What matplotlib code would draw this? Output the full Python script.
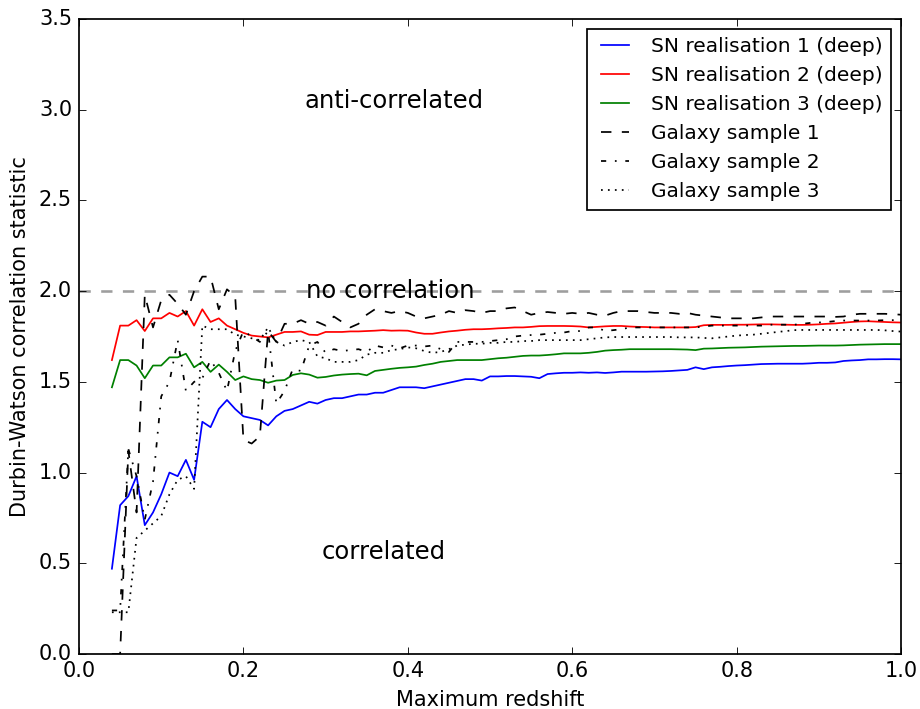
import numpy as np
import matplotlib
matplotlib.use("Agg")
import matplotlib.pyplot as plt

plt.style.use("classic")

# maximum redshift grid shared by all curves
redshift = np.round(np.arange(4, 101) / 100, 2)

sn_deep_1 = [
    0.47, 0.82, 0.87, 0.98, 0.71, 0.78, 0.88, 1.00, 0.98, 1.07,
    0.96, 1.28, 1.25, 1.35, 1.40, 1.35, 1.31, 1.30, 1.29, 1.26,
    1.31, 1.34, 1.35, 1.37, 1.39, 1.38, 1.40, 1.41, 1.41, 1.42,
    1.43, 1.43, 1.44, 1.44, 1.455, 1.47, 1.47, 1.47, 1.465, 1.475,
    1.485, 1.495, 1.505, 1.515, 1.515, 1.507, 1.53, 1.53, 1.532, 1.532,
    1.53, 1.528, 1.52, 1.543, 1.547, 1.55, 1.55, 1.552, 1.55, 1.552,
    1.549, 1.552, 1.556, 1.556, 1.556, 1.556, 1.557, 1.558, 1.56, 1.563,
    1.566, 1.58, 1.57, 1.58, 1.583, 1.587, 1.59, 1.592, 1.595, 1.598,
    1.599, 1.60, 1.60, 1.60, 1.60, 1.602, 1.605, 1.605, 1.607, 1.615,
    1.618, 1.62, 1.624, 1.624, 1.625, 1.625, 1.624,
]
sn_deep_2 = [
    1.62, 1.81, 1.81, 1.84, 1.78, 1.85, 1.85, 1.88, 1.86, 1.89,
    1.81, 1.90, 1.83, 1.85, 1.81, 1.79, 1.77, 1.755, 1.75, 1.745,
    1.76, 1.775, 1.775, 1.778, 1.76, 1.758, 1.775, 1.775, 1.775, 1.778,
    1.778, 1.78, 1.782, 1.785, 1.782, 1.783, 1.782, 1.772, 1.765, 1.765,
    1.772, 1.778, 1.782, 1.787, 1.79, 1.79, 1.792, 1.795, 1.797, 1.80,
    1.80, 1.803, 1.807, 1.808, 1.808, 1.808, 1.807, 1.805, 1.80, 1.803,
    1.806, 1.808, 1.808, 1.805, 1.803, 1.802, 1.80, 1.80, 1.80, 1.80,
    1.80, 1.802, 1.812, 1.814, 1.814, 1.814, 1.815, 1.815, 1.816, 1.817,
    1.817, 1.816, 1.815, 1.814, 1.814, 1.815, 1.817, 1.82, 1.822, 1.826,
    1.83, 1.833, 1.834, 1.832, 1.83, 1.828, 1.827,
]
sn_deep_3 = [
    1.47, 1.62, 1.62, 1.59, 1.52, 1.59, 1.59, 1.635, 1.635, 1.655,
    1.58, 1.61, 1.555, 1.595, 1.555, 1.51, 1.53, 1.515, 1.51, 1.495,
    1.507, 1.51, 1.538, 1.547, 1.54, 1.523, 1.527, 1.535, 1.54, 1.543,
    1.545, 1.536, 1.56, 1.566, 1.572, 1.577, 1.58, 1.584, 1.593, 1.60,
    1.61, 1.615, 1.62, 1.62, 1.62, 1.62, 1.625, 1.63, 1.633, 1.638,
    1.643, 1.645, 1.645, 1.648, 1.652, 1.657, 1.657, 1.657, 1.66, 1.665,
    1.672, 1.675, 1.677, 1.68, 1.68, 1.68, 1.68, 1.68, 1.68, 1.679,
    1.678, 1.675, 1.683, 1.684, 1.686, 1.688, 1.689, 1.69, 1.692, 1.694,
    1.695, 1.696, 1.697, 1.698, 1.698, 1.699, 1.70, 1.70, 1.70, 1.701,
    1.703, 1.705, 1.706, 1.707, 1.708, 1.708, 1.708,
]
galaxy_1 = [
    0.00, 0.00, 1.12, 0.78, 1.98, 1.80, 1.95, 1.98, 1.93, 1.87,
    2.00, 2.08, 2.08, 1.90, 2.01, 1.97, 1.18, 1.16, 1.20, 1.78,
    1.72, 1.82, 1.82, 1.84, 1.82, 1.83, 1.81, 1.86, 1.83, 1.80,
    1.82, 1.87, 1.90, 1.89, 1.88, 1.89, 1.88, 1.86, 1.85, 1.86,
    1.87, 1.89, 1.88, 1.895, 1.89, 1.88, 1.89, 1.89, 1.905, 1.91,
    1.89, 1.87, 1.88, 1.885, 1.88, 1.875, 1.88, 1.875, 1.88, 1.87,
    1.865, 1.88, 1.89, 1.89, 1.89, 1.885, 1.88, 1.88, 1.88, 1.875,
    1.88, 1.87, 1.865, 1.86, 1.855, 1.85, 1.85, 1.85, 1.85, 1.855,
    1.86, 1.86, 1.86, 1.86, 1.86, 1.86, 1.86, 1.86, 1.858, 1.86,
    1.87, 1.875, 1.875, 1.875, 1.875, 1.873, 1.87,
]
galaxy_2 = [
    0.24, 0.24, 1.13, 0.98, 0.74, 0.95, 1.42, 1.50, 1.73, 1.45,
    1.50, 1.52, 1.62, 1.55, 1.45, 1.67, 1.78, 1.75, 1.72, 1.78,
    1.38, 1.45, 1.57, 1.56, 1.70, 1.72, 1.66, 1.68, 1.67, 1.675,
    1.68, 1.665, 1.70, 1.69, 1.70, 1.685, 1.70, 1.70, 1.695, 1.70,
    1.68, 1.665, 1.72, 1.72, 1.72, 1.72, 1.725, 1.73, 1.735, 1.75,
    1.755, 1.758, 1.76, 1.765, 1.77, 1.772, 1.78, 1.78, 1.80, 1.80,
    1.78, 1.785, 1.79, 1.80, 1.80, 1.80, 1.80, 1.80, 1.80, 1.80,
    1.80, 1.80, 1.805, 1.81, 1.81, 1.81, 1.81, 1.81, 1.81, 1.81,
    1.815, 1.815, 1.815, 1.815, 1.82, 1.825, 1.827, 1.83, 1.835, 1.838,
    1.838, 1.838, 1.838, 1.838, 1.84, 1.84, 1.84,
]
galaxy_3 = [
    0.23, 0.23, 0.23, 0.64, 0.68, 0.72, 0.76, 0.88, 0.96, 0.98,
    0.91, 1.81, 1.79, 1.79, 1.79, 1.76, 1.75, 1.74, 1.73, 1.80,
    1.72, 1.70, 1.72, 1.73, 1.72, 1.64, 1.63, 1.61, 1.61, 1.61,
    1.62, 1.65, 1.66, 1.66, 1.675, 1.68, 1.69, 1.685, 1.67, 1.66,
    1.665, 1.68, 1.70, 1.705, 1.71, 1.71, 1.715, 1.715, 1.72, 1.72,
    1.725, 1.725, 1.73, 1.73, 1.73, 1.73, 1.73, 1.73, 1.735, 1.74,
    1.745, 1.747, 1.747, 1.747, 1.747, 1.747, 1.747, 1.747, 1.747, 1.745,
    1.745, 1.745, 1.742, 1.74, 1.745, 1.75, 1.755, 1.758, 1.76, 1.765,
    1.77, 1.775, 1.78, 1.785, 1.786, 1.786, 1.786, 1.786, 1.786, 1.786,
    1.786, 1.786, 1.786, 1.786, 1.784, 1.78, 1.777,
]

fig = plt.figure(figsize=(7.36, 5.672), facecolor="white")
ax = fig.add_axes([0.0859, 0.0776, 0.8935, 0.8956])

ax.axhline(2.0, color="0.62", lw=1.5, ls="--", dashes=(6.5, 6))
ax.plot(redshift, sn_deep_1, "b-", label="SN realisation 1 (deep)")
ax.plot(redshift, sn_deep_2, "r-", label="SN realisation 2 (deep)")
ax.plot(redshift, sn_deep_3, "g-", label="SN realisation 3 (deep)")
ax.plot(redshift, galaxy_1, "k--", label="Galaxy sample 1")
ax.plot(redshift, galaxy_2, "k-.", label="Galaxy sample 2")
ax.plot(redshift, galaxy_3, "k:", label="Galaxy sample 3")

ax.text(0.383, 3.05, "anti-correlated", ha="center", va="center", fontsize=14)
ax.text(0.379, 2.0, "no correlation", ha="center", va="center", fontsize=14)
ax.text(0.371, 0.56, "correlated", ha="center", va="center", fontsize=14)

ax.set_xlim(0, 1.0)
ax.set_ylim(0, 3.5)
ax.set_xlabel("Maximum redshift")
ax.set_ylabel("Durbin-Watson correlation statistic")
ax.legend(loc="upper right", fontsize=11.6)

fig.savefig("out.png", dpi=125, facecolor="white")
